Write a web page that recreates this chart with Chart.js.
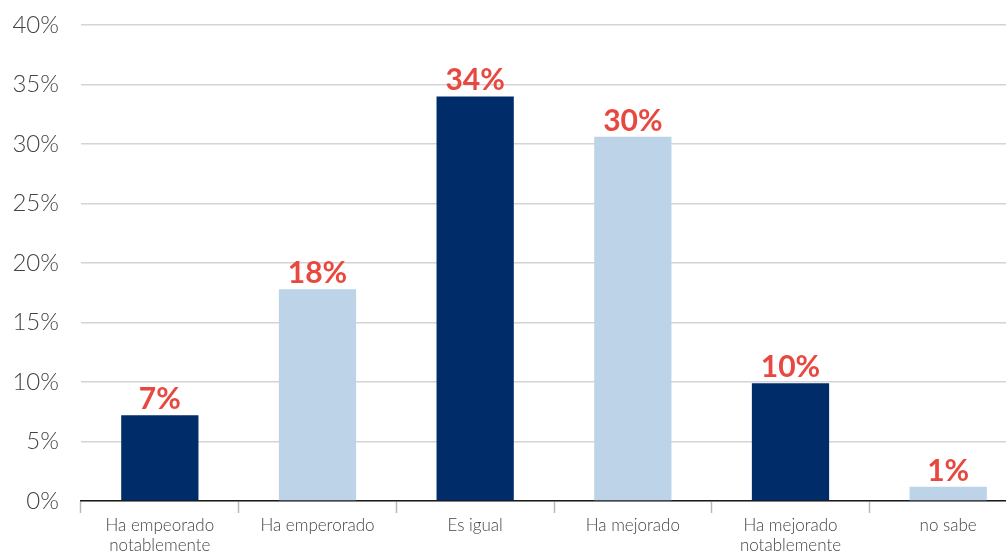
<!DOCTYPE html>
<html>
<head>
<meta charset="utf-8">
<script src="https://cdn.jsdelivr.net/npm/chart.js@4.4.1/dist/chart.umd.min.js"></script>
<style>
  html, body { margin: 0; padding: 0; background: #fff; overflow: hidden; }
  #wrap { width: 1040px; height: 558px; }
</style>
</head>
<body>
<div id="wrap"><canvas id="barChart"></canvas></div>
<script>
const categories = [
    ['Ha empeorado', 'notablemente'],
    'Ha emperorado',
    'Es igual',
    'Ha mejorado',
    ['Ha mejorado', 'notablemente'],
    'no sabe'
];
const values = [7.2, 17.8, 34.0, 30.6, 9.9, 1.2];
const valueLabels = ['7%', '18%', '34%', '30%', '10%', '1%'];
const barColors = ['#002D6A', '#BCD3E8', '#002D6A', '#BCD3E8', '#002D6A', '#BCD3E8'];

const valueLabelPlugin = {
    id: 'valueLabels',
    afterDatasetsDraw(chart) {
        const ctx = chart.ctx;
        const meta = chart.getDatasetMeta(0);
        ctx.save();
        ctx.font = 'bold 30px Lato';
        ctx.fillStyle = '#E8483F';
        ctx.textAlign = 'center';
        ctx.textBaseline = 'alphabetic';
        meta.data.forEach((bar, i) => {
            ctx.fillText(valueLabels[i], bar.x, bar.y - 6);
        });
        ctx.restore();
    }
};

const ctx = document.getElementById('barChart').getContext('2d');
new Chart(ctx, {
    type: 'bar',
    data: {
        labels: categories,
        datasets: [{
            data: values,
            backgroundColor: barColors,
            borderWidth: 0,
            barPercentage: 0.49,
            categoryPercentage: 1
        }]
    },
    options: {
        responsive: true,
        maintainAspectRatio: false,
        animation: false,
        layout: { padding: { top: 25, right: 13, left: 0, bottom: 0 } },
        plugins: {
            legend: { display: false },
            tooltip: { enabled: false }
        },
        scales: {
            x: {
                offset: true,
                grid: {
                    offset: true,
                    drawOnChartArea: false,
                    tickLength: 12,
                    tickColor: '#b8b8b8',
                    tickWidth: 1.5
                },
                border: { color: '#1a1a1a', width: 1.5 },
                ticks: {
                    color: '#444',
                    font: { family: 'Lato', size: 17, weight: 300 },
                    padding: 2,
                    maxRotation: 0,
                    autoSkip: false
                },
                afterFit(scale) { scale.height = 57; }
            },
            y: {
                min: 0,
                max: 40,
                ticks: {
                    stepSize: 5,
                    color: '#444',
                    font: { family: 'Lato', size: 24, weight: 300 },
                    padding: 22,
                    callback: (v) => v + '%'
                },
                grid: {
                    color: '#d4d4d4',
                    lineWidth: 1.5,
                    drawTicks: false
                },
                border: { display: false },
                afterFit(scale) {
                    scale.width = 81;
                    scale.paddingTop = 0;
                    scale.paddingBottom = 0;
                }
            }
        }
    },
    plugins: [valueLabelPlugin]
});
</script>
</body>
</html>
